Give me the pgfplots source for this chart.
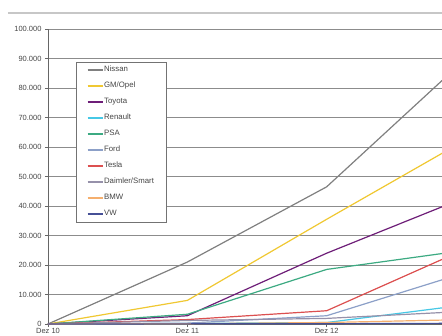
\documentclass[border=0pt]{standalone}
\usepackage{pgfplots}
\pgfplotsset{compat=1.18}
\usepackage{fontspec}
\setmainfont{Liberation Sans}
\definecolor{cNissan}{RGB}{128,128,128}
\definecolor{cGM}{RGB}{240,200,50}
\definecolor{cToyota}{RGB}{110,30,120}
\definecolor{cRenault}{RGB}{70,200,230}
\definecolor{cPSA}{RGB}{60,170,130}
\definecolor{cFord}{RGB}{140,160,200}
\definecolor{cTesla}{RGB}{220,80,80}
\definecolor{cDaimler}{RGB}{150,145,170}
\definecolor{cBMW}{RGB}{245,175,110}
\definecolor{cVW}{RGB}{70,80,150}
\definecolor{txt}{RGB}{70,70,70}
\begin{document}
\begin{tikzpicture}[x=1pt,y=1pt]
\clip (-48,-11) rectangle (394,324);
\fill[white] (-48,-11) rectangle (394,324);
\draw[black!22, line width=1.6pt] (-40,311) -- (394,311);
\begin{axis}[
  at={(0,0)}, anchor=south west,
  scale only axis, width=418pt, height=295pt,
  xmin=0, xmax=3, ymin=0, ymax=100000,
  axis x line=bottom, axis y line=left,
  axis line style={-, black!60, line width=0.8pt},
  xtick={0,1,2}, xticklabels={Dez 10,Dez 11,Dez 12},
  ytick={0,10000,20000,30000,40000,50000,60000,70000,80000,90000,100000},
  yticklabels={0,10.000,20.000,30.000,40.000,50.000,60.000,70.000,80.000,90.000,100.000},
  scaled y ticks=false,
  ymajorgrids, grid style={black!45, line width=0.9pt},
  tick align=outside, major tick length=3pt,
  tick style={black!60, line width=0.8pt},
  tick label style={font=\fontsize{7.5}{9}\selectfont, text=txt},
  xticklabel style={inner sep=0pt, text height=5.4pt, text depth=0pt, yshift=-0.5pt},
  clip=true,
  legend style={at={(0.0663,0.889)}, anchor=north west, draw=black!55, fill=white,
    font=\fontsize{7.8}{9}\selectfont, text=txt,
    nodes={inner xsep=1pt, inner ysep=0pt, text height=5.5pt, text depth=1.5pt},
    row sep=9pt, inner xsep=11pt, inner ysep=4.5pt},
  legend cell align=left,
  legend image code/.code={\draw[#1] (0pt,0pt) -- (15pt,0pt);},
  every axis plot/.append style={line width=1.2pt},
]
\addplot[cNissan] coordinates {(0,0) (1,21000) (2,46500) (3,90000)};
\addlegendentry{Nissan}
\addplot[cGM] coordinates {(0,0) (1,8000) (2,35500) (3,62500)};
\addlegendentry{GM/Opel}
\addplot[cToyota] coordinates {(0,0) (1,2800) (2,24000) (3,43000)};
\addlegendentry{Toyota}
\addplot[cRenault] coordinates {(0,0) (1,200) (2,500) (3,6500)};
\addlegendentry{Renault}
\addplot[cPSA] coordinates {(0,0) (1,3300) (2,18500) (3,25000)};
\addlegendentry{PSA}
\addplot[cFord] coordinates {(0,0) (1,300) (2,2800) (3,17500)};
\addlegendentry{Ford}
\addplot[cTesla] coordinates {(0,0) (1,1500) (2,4500) (3,25500)};
\addlegendentry{Tesla}
\addplot[cDaimler] coordinates {(0,0) (1,1200) (2,1900) (3,4300)};
\addlegendentry{Daimler/Smart}
\addplot[cBMW] coordinates {(0,0) (1,100) (2,500) (3,1500)};
\addlegendentry{BMW}
\addplot[cVW] coordinates {(0,0) (1,50) (2,100) (3,250)};
\addlegendentry{VW}
\end{axis}
\end{tikzpicture}
\end{document}
